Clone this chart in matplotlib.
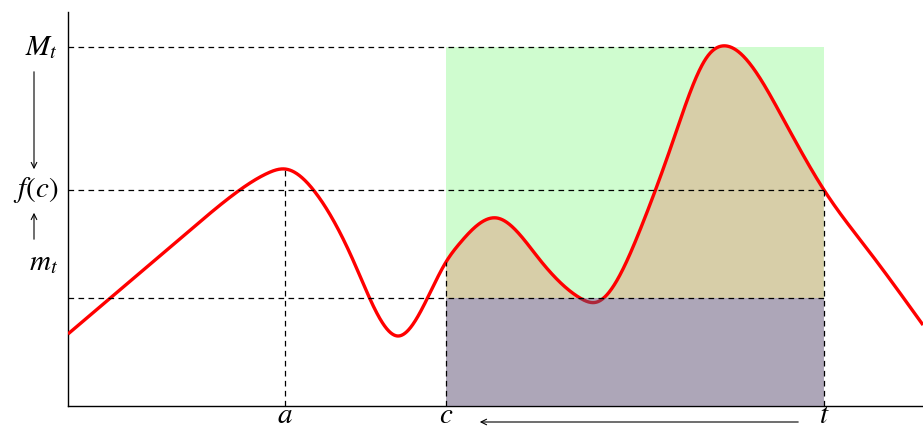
#!/usr/bin/env python3
# sketch of f on [c, t] with the sup/inf boxes
import numpy as np
import matplotlib.pyplot as plt

plt.rcParams['mathtext.fontset'] = 'stix'

# curve control points (x, y), axis units
curve_x = [0, 60, 120, 169, 200, 217, 247, 285, 302, 330, 359, 378, 392,
           429, 472, 512, 529, 572, 605, 639, 654, 712, 756, 800, 855]
curve_y = [72, 123, 174, 214, 233, 237, 214, 146, 107, 70, 107, 144, 163,
           188, 146, 108, 104, 176, 265, 349, 360, 293, 216, 156, 81]

# marked abscissae / ordinates
x_a, x_c, x_t = 217, 378, 756
y_M, y_f, y_m = 359, 216, 108

x_labels = ['$a$', '$c$', '$t$']
y_labels = ['$M_t$', '$f(c)$', '$m_t$']


def spline(xk, yk, xs):
    # natural cubic spline, like a smooth plot
    xk = np.asarray(xk, float)
    yk = np.asarray(yk, float)
    n = len(xk)
    h = np.diff(xk)
    A = np.zeros((n, n))
    r = np.zeros(n)
    A[0, 0] = A[-1, -1] = 1
    for i in range(1, n - 1):
        A[i, i - 1] = h[i - 1]
        A[i, i] = 2 * (h[i - 1] + h[i])
        A[i, i + 1] = h[i]
        r[i] = 6 * ((yk[i + 1] - yk[i]) / h[i] - (yk[i] - yk[i - 1]) / h[i - 1])
    M = np.linalg.solve(A, r)
    idx = np.clip(np.searchsorted(xk, xs) - 1, 0, n - 2)
    x0, x1 = xk[idx], xk[idx + 1]
    hh = h[idx]
    return (M[idx] * (x1 - xs)**3 / (6 * hh) + M[idx + 1] * (xs - x0)**3 / (6 * hh)
            + (yk[idx] / hh - M[idx] * hh / 6) * (x1 - xs)
            + (yk[idx + 1] / hh - M[idx + 1] * hh / 6) * (xs - x0))


xs = np.linspace(curve_x[0], curve_x[-1], 2000)
ys = spline(curve_x, curve_y, xs)

fig = plt.figure(figsize=(9.23, 4.30), dpi=100)
ax = fig.add_axes([68 / 923, 24 / 430, 855 / 923, 394 / 430])
ax.set_xlim(0, 855)
ax.set_ylim(0, 394)

# green box c..t, m_t..M_t
ax.fill_between([x_c, x_t], y_m, y_M, color='#cffccf', lw=0, zorder=1)
# area under curve above m_t
sel = (xs >= x_c) & (xs <= x_t)
ax.fill_between(xs[sel], y_m, ys[sel], where=ys[sel] > y_m, color='#d7cea8',
                lw=0, zorder=2, interpolate=True)

ax.plot(xs, ys, color='red', lw=2.4, zorder=3, solid_capstyle='butt')

# lower box, drawn over the curve
ax.fill_between([x_c, x_t], 0, y_m, color='#5d4f73', alpha=0.5, lw=0, zorder=4)

y_at = lambda xv: spline(curve_x, curve_y, np.array([float(xv)]))[0]
dash = dict(color='black', lw=0.9, ls=(0, (4.5, 3.5)), zorder=5)
ax.plot([0, 650], [y_M, y_M], **dash)
ax.plot([0, x_t], [y_f, y_f], **dash)
ax.plot([0, x_t], [y_m, y_m], **dash)
ax.plot([x_a, x_a], [0, y_at(x_a)], **dash)
ax.plot([x_c, x_c], [0, y_at(x_c)], **dash)
ax.plot([x_t, x_t], [0, y_f], **dash)

for s in ['top', 'right']:
    ax.spines[s].set_visible(False)
for s in ['left', 'bottom']:
    ax.spines[s].set_linewidth(1.0)
ax.set_xticks([])
ax.set_yticks([])

fs = 21
for xv, lab in zip([x_a, x_c, x_t], x_labels):
    ax.text(xv, -9, lab, ha='center', va='center', fontsize=fs)
ax.text(-10, y_M, y_labels[0], ha='right', va='center', fontsize=fs)
ax.text(-10, y_f, y_labels[1], ha='right', va='center', fontsize=fs)
ax.text(-10, 144, y_labels[2], ha='right', va='center', fontsize=fs)

arr = dict(arrowstyle='->', color='black', lw=0.8, mutation_scale=10)
ax.annotate('', xy=(-34, 234), xytext=(-34, 337), annotation_clip=False,
            arrowprops=arr)
ax.annotate('', xy=(-34, 196), xytext=(-34, 164), annotation_clip=False,
            arrowprops=arr)
ax.annotate('', xy=(409, -16), xytext=(733, -16), annotation_clip=False,
            arrowprops=arr)

fig.savefig('out.png', dpi=100)
